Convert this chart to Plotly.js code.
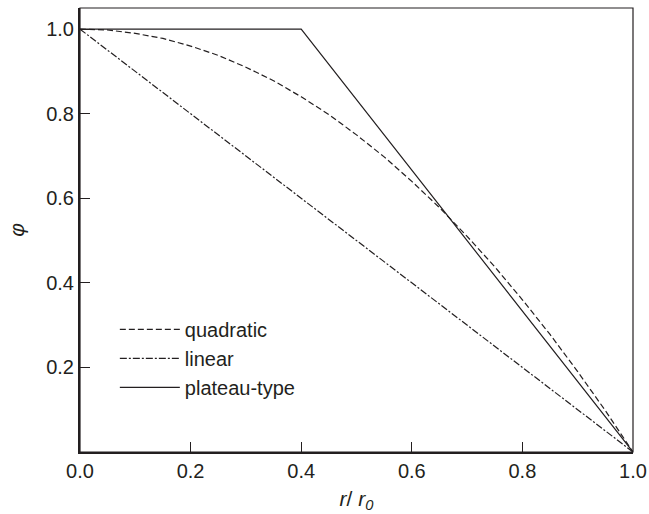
<!DOCTYPE html>
<html>
<head>
<meta charset="utf-8">
<script src="https://cdn.plot.ly/plotly-3.0.1.min.js"></script>
<style>html,body{margin:0;padding:0;background:#fff;}</style>
</head>
<body>
<div id="chart" style="width:649px;height:514px;"></div>
<script>
// Data
const quadX = [0, 0.05, 0.1, 0.15, 0.2, 0.25, 0.3, 0.35, 0.4, 0.45, 0.5, 0.55, 0.6, 0.65, 0.7, 0.75, 0.8, 0.85, 0.9, 0.95, 1.0];
const quadY = [1.0, 0.998, 0.99, 0.978, 0.96, 0.938, 0.91, 0.878, 0.84, 0.798, 0.75, 0.698, 0.64, 0.578, 0.51, 0.438, 0.36, 0.278, 0.19, 0.098, 0.0];
const linX = [0, 1.0];
const linY = [1.0, 0.0];
const platX = [0, 0.4, 1.0];
const platY = [1.0, 1.0, 0.0];
const seriesNames = ['quadratic', 'linear', 'plateau-type'];
const xTicks = [0, 0.2, 0.4, 0.6, 0.8, 1.0];
const xTickText = ['0.0', '0.2', '0.4', '0.6', '0.8', '1.0'];
const yTicks = [0.2, 0.4, 0.6, 0.8, 1.0];
const yTickText = ['0.2', '0.4', '0.6', '0.8', '1.0'];

const ink = '#231f20';
const traces = [
  {x: quadX, y: quadY, name: seriesNames[0], mode: 'lines', line: {color: ink, width: 1.2, dash: '6px,3px'}},
  {x: linX, y: linY, name: seriesNames[1], mode: 'lines', line: {color: ink, width: 1.2, dash: '7px,2px,2px,2px'}},
  {x: platX, y: platY, name: seriesNames[2], mode: 'lines', line: {color: ink, width: 1.2}}
];

const font = {family: 'Liberation Sans, Arial, sans-serif', color: ink};
const layout = {
  width: 649, height: 514,
  margin: {l: 80, r: 16, t: 8, b: 62},
  paper_bgcolor: '#fff', plot_bgcolor: '#fff',
  font: font,
  showlegend: true,
  legend: {
    x: 0.063, y: 0.32, xanchor: 'left', yanchor: 'top',
    bgcolor: 'rgba(0,0,0,0)', font: {size: 20, color: ink},
    itemwidth: 60, tracegroupgap: 0
  },
  xaxis: {
    range: [0, 1.0], tickvals: xTicks, ticktext: xTickText,
    ticks: 'inside', ticklen: 10, tickwidth: 1.2, tickcolor: ink,
    showline: true, linewidth: 2, linecolor: ink, showgrid: false, zeroline: false,
    tickfont: {size: 20, color: ink},
    title: {text: '<i>r</i>/<i> r</i><sub><i>0</i></sub>', font: {size: 21, color: ink}, standoff: 10}
  },
  yaxis: {
    range: [0, 1.05], tickvals: yTicks, ticktext: yTickText,
    ticks: 'inside', ticklen: 10, tickwidth: 1.2, tickcolor: ink,
    showline: true, linewidth: 2, linecolor: ink, showgrid: false, zeroline: false,
    tickfont: {size: 20, color: ink},
    title: {text: '<i>φ</i>', font: {size: 21, color: ink}, standoff: 16}
  },
  shapes: [
    {type: 'rect', xref: 'paper', yref: 'paper', x0: 0, x1: 1, y0: 0, y1: 1, line: {color: ink, width: 1.2}, layer: 'above'}
  ]
};

Plotly.newPlot('chart', traces, layout, {displayModeBar: false, staticPlot: true});
</script>
</body>
</html>
